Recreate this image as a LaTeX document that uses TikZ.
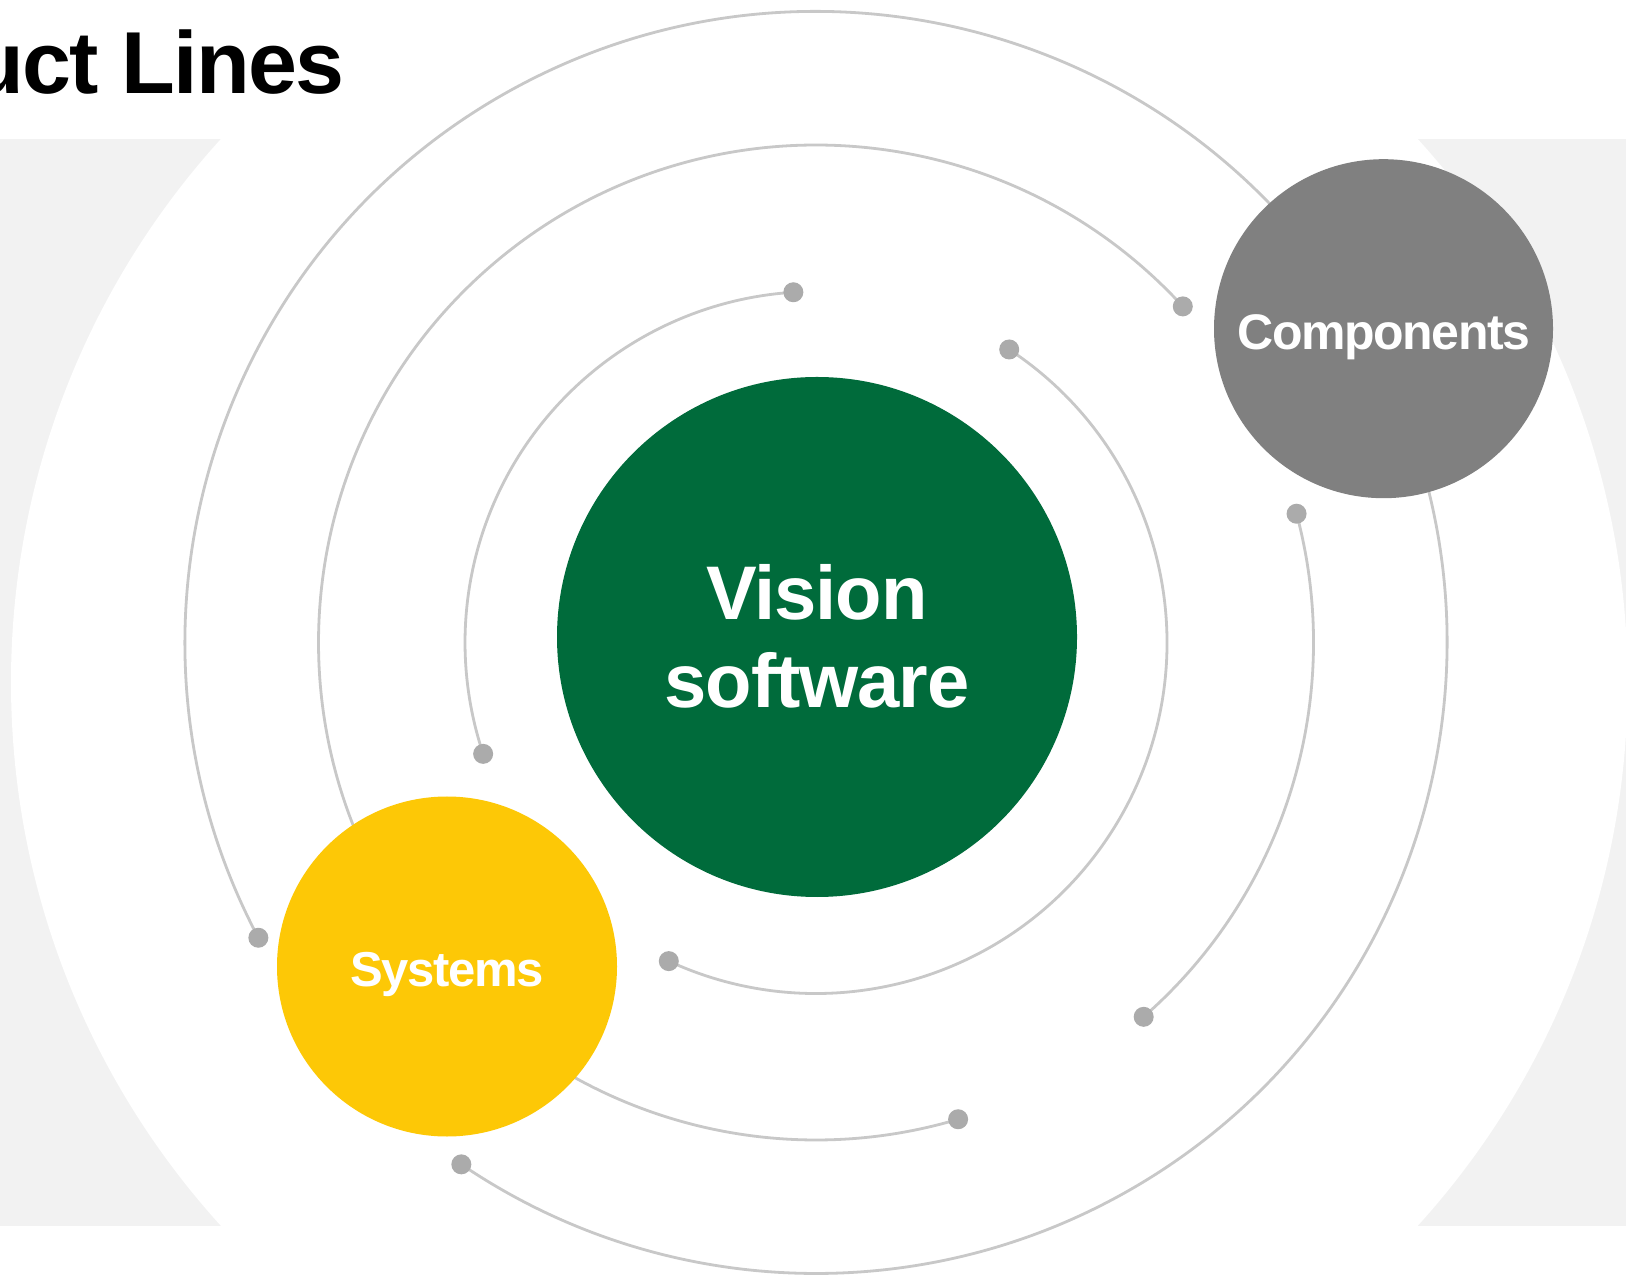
\documentclass[tikz,border=0pt]{standalone}
\usepackage{fontspec}
\setmainfont{Liberation Sans}
\newfontfamily\stA[LetterSpace=-2]{Liberation Sans}
\newfontfamily\stB[LetterSpace=-3]{Liberation Sans}
\newfontfamily\stC[LetterSpace=-3]{Liberation Sans}
\newfontfamily\stD[LetterSpace=-1.5]{Liberation Sans}
\definecolor{bandgray}{RGB}{242,242,242}
\definecolor{vgreen}{RGB}{0,107,59}
\definecolor{cgray}{RGB}{128,128,128}
\definecolor{syellow}{RGB}{253,200,6}
\definecolor{arcgray}{RGB}{200,200,200}
\definecolor{dotgray}{RGB}{171,171,171}
\tikzset{
  orbit/.style={draw=arcgray,line width=1.4pt},
  dotmark/.style={fill=dotgray},
  planet/.style={circle,inner sep=0pt,text=white,font=\bfseries},
}
\begin{document}
\begin{tikzpicture}[x=0.5pt,y=0.5pt]
\useasboundingbox (0,0) rectangle (1626,1280);
\clip (0,0) rectangle (1626,1280);
\fill[white] (0,0) rectangle (1626,1280);
% background band and big white disc
\fill[bandgray] (0,54.3) rectangle (1626,1141);
\fill[white] (819.3,597.6) circle[radius=404.15pt];
% title
\node[anchor=base east,inner sep=0pt,font=\stA\bfseries\fontsize{44pt}{48pt}\selectfont] (title) at (345,1186) {uct Lines};
% orbit centre
\coordinate (O) at (816,637.5);
% inner orbits
\draw[orbit] (O) ++(93.7:175.5pt) coordinate (i1) arc[start angle=93.7,end angle=198.5,radius=175.5pt] coordinate (i2);
\draw[orbit] (O) ++(56.6:175.5pt) coordinate (i3) arc[start angle=56.6,end angle=-114.8,radius=175.5pt] coordinate (i4);
% middle orbits
\draw[orbit] (O) ++(42.5:248.75pt) coordinate (m1) arc[start angle=42.5,end angle=286.6,radius=248.75pt] coordinate (m2);
\draw[orbit] (O) ++(15.0:248.75pt) coordinate (m3) arc[start angle=15.0,end angle=-48.8,radius=248.75pt] coordinate (m4);
% outer orbit
\draw[orbit] (O) ++(207.9:315.5pt) coordinate (o1) arc[start angle=207.9,end angle=-124.2,radius=315.5pt] coordinate (o2);
% dots
\foreach \p in {i1,i2,i3,i4,m1,m2,m3,m4,o1,o2}
  \fill[dotmark] (\p) circle[radius=5pt];
% planets
\node[planet,fill=vgreen,minimum size=260pt] (vision) at (817,643) {};
\node[planet,fill=cgray,minimum size=169.5pt] (components) at (1383.5,951.3) {};
\node[planet,fill=syellow,minimum size=170pt] (systems) at (447,313.5) {};
% labels
\node[text=white,align=center,inner sep=0pt,font=\stD\bfseries\fontsize{38pt}{44pt}\selectfont] (visionlabel) at (817,643.5) {Vision\\software};
\node[anchor=base,text=white,inner sep=0pt,font=\stB\bfseries\fontsize{25pt}{30pt}\selectfont] (complabel) at (1384,930) {Components};
\node[anchor=base,text=white,inner sep=0pt,font=\stC\bfseries\fontsize{24.5pt}{30pt}\selectfont] (syslabel) at (447,294) {Systems};
\end{tikzpicture}
\end{document}
